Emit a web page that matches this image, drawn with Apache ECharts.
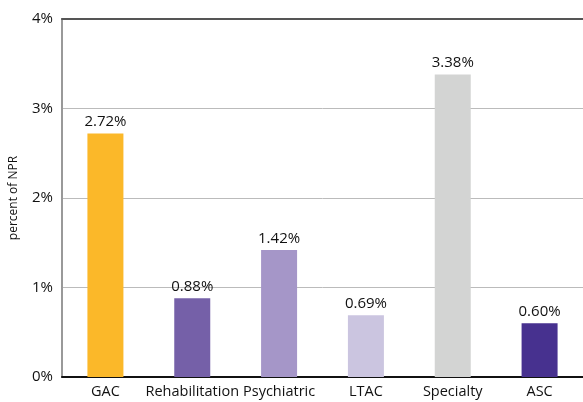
<!DOCTYPE html>
<html>
<head>
    <meta charset="utf-8">
    <title>percent of NPR</title>
    <script src="https://cdn.jsdelivr.net/npm/echarts@6/dist/echarts.min.js"></script>
</head>
<body style="margin:0">
    <div id="main" style="width:583px;height:402px;"></div>
    <script type="text/javascript">
        var categories = ['GAC', 'Rehabilitation', 'Psychiatric', 'LTAC', 'Specialty', 'ASC'];
        var values = [2.72, 0.88, 1.42, 0.69, 3.38, 0.60];
        var barColors = ['#fbb829', '#7560a8', '#a596c8', '#cbc5e0', '#d3d4d3', '#47318f'];
        var yTicks = [0, 1, 2, 3, 4];

        var myChart = echarts.init(document.getElementById('main'));
        var font = 'Open Sans';

        var option = {
            animation: false,
            grid: { left: 62, right: -5, top: 19, bottom: 25 },
            xAxis: [{
                type: 'category',
                data: categories,
                axisLine: { lineStyle: { color: '#111', width: 2 } },
                axisTick: { show: false },
                axisLabel: { color: '#111', fontSize: 14.5, fontFamily: font, margin: 7, interval: 0 }
            }, {
                type: 'category',
                position: 'top',
                data: categories,
                axisLine: { lineStyle: { color: '#555', width: 2 } },
                axisTick: { show: false },
                axisLabel: { show: false }
            }],
            yAxis: {
                type: 'value',
                min: 0, max: 4, interval: 1,
                name: 'percent of NPR',
                nameLocation: 'middle',
                nameGap: 42,
                nameTextStyle: { color: '#111', fontSize: 12, fontFamily: font },
                axisLine: { show: true, lineStyle: { color: '#999', width: 2 } },
                axisTick: { show: false },
                axisLabel: {
                    color: '#111', fontSize: 15, fontFamily: font, margin: 9,
                    formatter: function (v) { return yTicks.indexOf(v) >= 0 ? v + '%' : ''; }
                },
                splitLine: { lineStyle: { color: '#bbb', width: 1 } }
            },
            series: [{
                type: 'bar',
                barWidth: 36,
                data: values.map(function (v, i) {
                    return { value: v, itemStyle: { color: barColors[i] } };
                }),
                label: {
                    show: true,
                    position: 'top',
                    distance: 4,
                    color: '#111',
                    fontSize: 15,
                    fontFamily: font,
                    formatter: function (p) { return p.value.toFixed(2) + '%'; }
                }
            }]
        };
        myChart.setOption(option);
    </script>
</body>
</html>
